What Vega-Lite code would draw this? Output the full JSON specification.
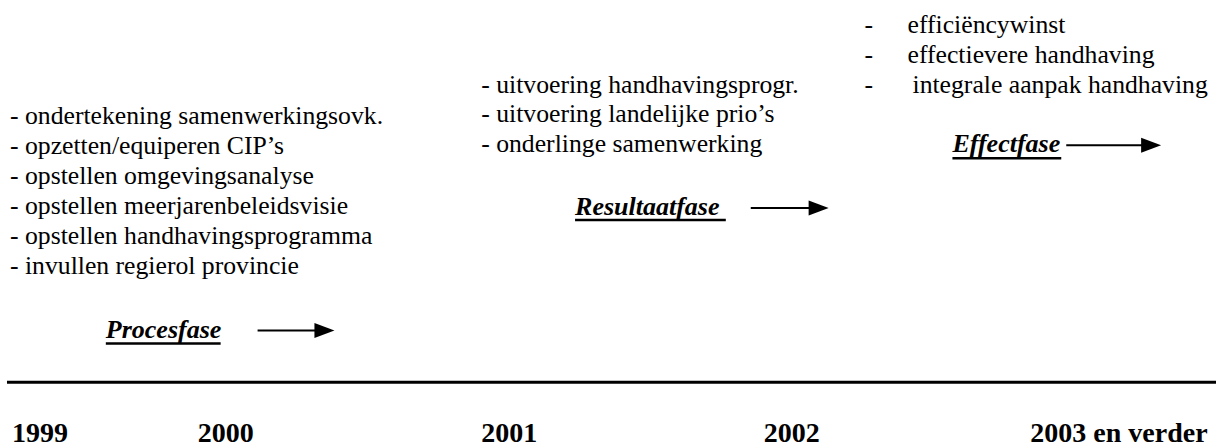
{
  "$schema": "https://vega.github.io/schema/vega-lite/v6.json",
  "width": 1218,
  "height": 448,
  "autosize": {"type": "fit", "contains": "padding"},
  "padding": 0,
  "background": "white",
  "config": {"view": {"stroke": null}},
  "datasets": {
    "texts": [
      {"kind": "item", "x": 10, "y": 125, "t": "- ondertekening samenwerkingsovk."},
      {"kind": "item", "x": 10, "y": 155, "t": "- opzetten/equiperen CIP’s"},
      {"kind": "item", "x": 10, "y": 185, "t": "- opstellen omgevingsanalyse"},
      {"kind": "item", "x": 10, "y": 215, "t": "- opstellen meerjarenbeleidsvisie"},
      {"kind": "item", "x": 10, "y": 245, "t": "- opstellen handhavingsprogramma"},
      {"kind": "item", "x": 10, "y": 275, "t": "- invullen regierol provincie"},
      {"kind": "item", "x": 482, "y": 93, "t": "- uitvoering handhavingsprogr."},
      {"kind": "item", "x": 482, "y": 123, "t": "- uitvoering landelijke prio’s"},
      {"kind": "item", "x": 482, "y": 153, "t": "- onderlinge samenwerking"},
      {"kind": "item", "x": 866, "y": 33, "t": "-"},
      {"kind": "item", "x": 866, "y": 63, "t": "-"},
      {"kind": "item", "x": 866, "y": 93, "t": "-"},
      {"kind": "item", "x": 909, "y": 33, "t": "efficiëncywinst"},
      {"kind": "item", "x": 909, "y": 63, "t": "effectievere handhaving"},
      {"kind": "item", "x": 914, "y": 93, "t": "integrale aanpak handhaving"},
      {"kind": "phase", "x": 106, "y": 340, "t": "Procesfase"},
      {"kind": "phase", "x": 576, "y": 216, "t": "Resultaatfase"},
      {"kind": "phase", "x": 954, "y": 153, "t": "Effectfase"},
      {"kind": "year", "x": 12, "y": 444, "t": "1999"},
      {"kind": "year", "x": 198, "y": 444, "t": "2000"},
      {"kind": "year", "x": 482, "y": 444, "t": "2001"},
      {"kind": "year", "x": 765, "y": 444, "t": "2002"},
      {"kind": "year", "x": 1032, "y": 444, "t": "2003 en verder"}
    ],
    "lines": [
      {"kind": "underline", "x": 106, "x2": 221, "y": 345},
      {"kind": "underline", "x": 576, "x2": 727, "y": 221},
      {"kind": "underline", "x": 954, "x2": 1063, "y": 159},
      {"kind": "arrow", "x": 258, "x2": 317, "y": 332},
      {"kind": "arrow", "x": 752, "x2": 812, "y": 209},
      {"kind": "arrow", "x": 1068, "x2": 1145, "y": 146},
      {"kind": "axisline", "x": 7, "x2": 1218, "y": 384}
    ],
    "heads": [
      {"x": 325, "y": 332},
      {"x": 820, "y": 209},
      {"x": 1153, "y": 146}
    ]
  },
  "layer": [
    {
      "data": {"name": "texts"},
      "transform": [{"filter": "datum.kind == 'item'"}],
      "mark": {"type": "text", "align": "left", "baseline": "alphabetic", "font": "Liberation Serif", "fontSize": 25.7, "color": "black"},
      "encoding": {
        "x": {"field": "x", "type": "quantitative", "scale": {"domain": [0, 1218], "nice": false, "zero": false}, "axis": null},
        "y": {"field": "y", "type": "quantitative", "scale": {"domain": [0, 448], "nice": false, "zero": false, "reverse": true}, "axis": null},
        "text": {"field": "t"}
      }
    },
    {
      "data": {"name": "texts"},
      "transform": [{"filter": "datum.kind == 'phase'"}],
      "mark": {"type": "text", "align": "left", "baseline": "alphabetic", "font": "Liberation Serif", "fontSize": 26, "fontWeight": "bold", "fontStyle": "italic", "color": "black"},
      "encoding": {
        "x": {"field": "x", "type": "quantitative", "axis": null},
        "y": {"field": "y", "type": "quantitative", "axis": null},
        "text": {"field": "t"}
      }
    },
    {
      "data": {"name": "texts"},
      "transform": [{"filter": "datum.kind == 'year'"}],
      "mark": {"type": "text", "align": "left", "baseline": "alphabetic", "font": "Liberation Serif", "fontSize": 28, "fontWeight": "bold", "color": "black"},
      "encoding": {
        "x": {"field": "x", "type": "quantitative", "axis": null},
        "y": {"field": "y", "type": "quantitative", "axis": null},
        "text": {"field": "t"}
      }
    },
    {
      "data": {"name": "lines"},
      "transform": [{"filter": "datum.kind == 'underline'"}],
      "mark": {"type": "rule", "color": "black", "strokeWidth": 2.5},
      "encoding": {
        "x": {"field": "x", "type": "quantitative", "axis": null},
        "x2": {"field": "x2"},
        "y": {"field": "y", "type": "quantitative", "axis": null}
      }
    },
    {
      "data": {"name": "lines"},
      "transform": [{"filter": "datum.kind == 'arrow'"}],
      "mark": {"type": "rule", "color": "black", "strokeWidth": 2},
      "encoding": {
        "x": {"field": "x", "type": "quantitative", "axis": null},
        "x2": {"field": "x2"},
        "y": {"field": "y", "type": "quantitative", "axis": null}
      }
    },
    {
      "data": {"name": "lines"},
      "transform": [{"filter": "datum.kind == 'axisline'"}],
      "mark": {"type": "rule", "color": "black", "strokeWidth": 3},
      "encoding": {
        "x": {"field": "x", "type": "quantitative", "axis": null},
        "x2": {"field": "x2"},
        "y": {"field": "y", "type": "quantitative", "axis": null}
      }
    },
    {
      "data": {"name": "heads"},
      "mark": {"type": "point", "shape": "M-1,-0.75L1,0L-1,0.75Z", "filled": true, "color": "black", "opacity": 1, "size": 400, "strokeWidth": 0},
      "encoding": {
        "x": {"field": "x", "type": "quantitative", "axis": null},
        "y": {"field": "y", "type": "quantitative", "axis": null}
      }
    }
  ]
}
